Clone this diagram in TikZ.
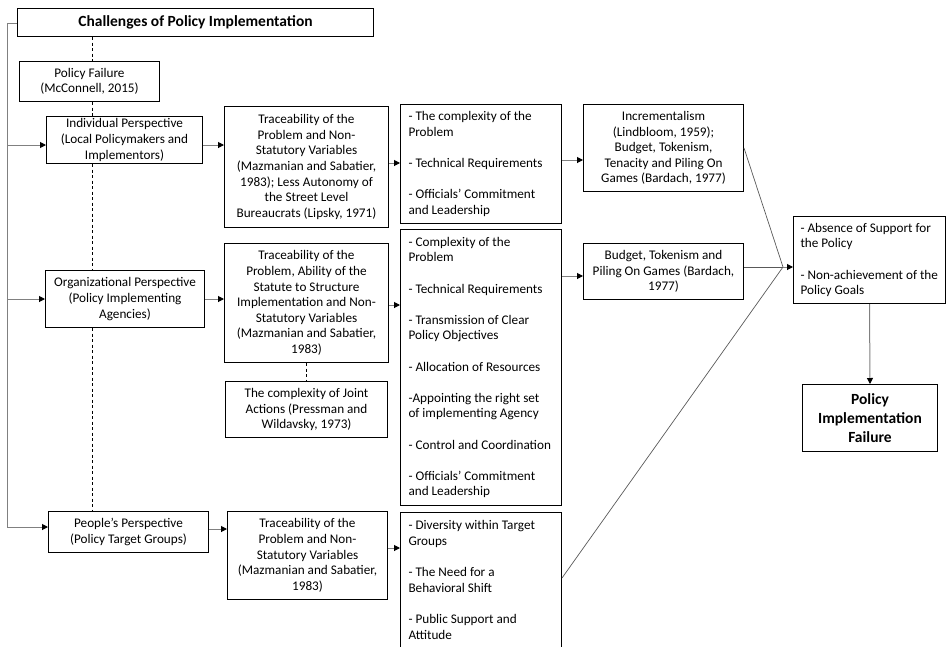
\documentclass[tikz,border=0pt]{standalone}
\usepackage{fontspec}
\setmainfont{Carlito}
\usetikzlibrary{arrows.meta}
\newcommand\dgnfont{\fontsize{13.2}{15.6}\selectfont}
\newcommand\dgbfont{\fontsize{15.5}{19}\selectfont\bfseries}
\begin{document}
\begin{tikzpicture}[x=1pt,y=-1pt,
  box/.style={draw=black,line width=1pt,anchor=north west,align=center,inner sep=2pt,font=\dgnfont},
  lbox/.style={draw=black,line width=1pt,anchor=north west,align=flush left,inner xsep=8pt,inner ysep=4pt,font=\dgnfont},
  conn/.style={draw=black!50,line width=1pt},
  arr/.style={conn,-{Triangle[length=6pt,width=6pt,color=black]}},
  fine/.style={draw=black!65,line width=0.7pt},
  dsh/.style={draw=black,line width=0.9pt,dash pattern=on 3pt off 2.5pt}]
\useasboundingbox (0,0) rectangle (946,646);
\clip (0,0) rectangle (946,646);

\node[box,minimum width=356pt,minimum height=28pt,font=\dgbfont] (title) at (17,8) {Challenges of Policy Implementation};
\node[box,minimum width=140pt,minimum height=40pt] (pf) at (19,61) {Policy Failure\\(McConnell, 2015)};
\node[box,minimum width=156pt,minimum height=47pt] (ind) at (46,116) {Individual Perspective\\(Local Policymakers and\\Implementors)};
\node[box,minimum width=164pt,minimum height=121pt] (t1) at (224,106) {Traceability of the\\Problem and Non-\\Statutory Variables\\(Mazmanian and Sabatier,\\1983); Less Autonomy of\\the Street Level\\Bureaucrats (Lipsky, 1971)};
\node[box,minimum width=159pt,minimum height=57pt] (org) at (45,270) {Organizational Perspective\\(Policy Implementing\\Agencies)};
\node[box,minimum width=164pt,minimum height=119pt] (t2) at (224,243) {Traceability of the\\Problem, Ability of the\\Statute to Structure\\Implementation and Non-\\Statutory Variables\\(Mazmanian and Sabatier,\\1983)};
\node[box,minimum width=162pt,minimum height=56pt] (joint) at (225,381) {The complexity of Joint\\Actions (Pressman and\\Wildavsky, 1973)};
\node[box,minimum width=160pt,minimum height=41pt] (ppl) at (48,511) {People’s Perspective\\(Policy Target Groups)};
\node[box,minimum width=160pt,minimum height=88pt] (t3) at (227,511) {Traceability of the\\Problem and Non-\\Statutory Variables\\(Mazmanian and Sabatier,\\1983)};

\node[lbox,text width=145pt,minimum height=119pt] (A) at (400,104) {- The complexity of the\\Problem\\[15.6pt]- Technical Requirements\\[15.6pt]- Officials’ Commitment\\and Leadership};
\node[box,minimum width=160pt,minimum height=87pt] (B) at (583,104) {Incrementalism\\(Lindbloom, 1959);\\Budget, Tokenism,\\Tenacity and Piling On\\Games (Bardach, 1977)};
\node[lbox,text width=145pt,minimum height=276pt] (C) at (400,229) {- Complexity of the\\Problem\\[15.6pt]- Technical Requirements\\[15.6pt]- Transmission of Clear\\Policy Objectives\\[15.6pt]- Allocation of Resources\\[15.6pt]-Appointing the right set\\of implementing Agency\\[15.6pt]- Control and Coordination\\[15.6pt]- Officials’ Commitment\\and Leadership};
\node[box,minimum width=160pt,minimum height=56pt] (D) at (583,243) {Budget, Tokenism and\\Piling On Games (Bardach,\\1977)};
\node[lbox,text width=145pt,minimum height=135pt] (E) at (400,512) {- Diversity within Target\\Groups\\[15.6pt]- The Need for a\\Behavioral Shift\\[15.6pt]- Public Support and\\Attitude};
\node[lbox,inner xsep=7pt,text width=138pt,minimum height=87pt] (F) at (793,216) {- Absence of Support for\\the Policy\\[15.6pt]- Non-achievement of the\\Policy Goals};
\node[box,minimum width=135pt,minimum height=67pt,font=\dgbfont] (G) at (802,384) {Policy\\Implementation\\Failure};

% left trunk
\coordinate (L0) at (7,23);
\coordinate (L1) at (7,527);
\draw[arr] (title.west |- L0) -- (L0) -- (L1) -- (ppl.west |- L1);
\draw[arr] (L0 |- 0,145) -- (ind.west |- 0,145);
\draw[arr] (L0 |- 0,299) -- (org.west |- 0,299);

% rows
\draw[arr] (ind.east |- 0,145) -- (t1.west |- 0,145);
\draw[arr] (t1.east |- 0,163) -- (A.west |- 0,163);
\draw[arr] (A.east |- 0,160) -- (B.west |- 0,160);
\draw[arr] (org.east |- 0,299) -- (t2.west |- 0,299);
\draw[arr] (t2.east |- 0,305) -- (C.west |- 0,305);
\draw[arr] (C.east |- 0,276) -- (D.west |- 0,276);
\draw[arr] (ppl.east |- 0,529) -- (t3.west |- 0,529);
\draw[arr] (t3.east |- 0,548) -- (E.west |- 0,548);

% convergence
\coordinate (M) at (783,267);
\draw[fine] (B.east |- 0,148) -- (M);
\draw[fine] (D.east |- M) -- (M);
\draw[fine] (E.east |- 0,578) -- (M);
\draw[arr] (M) -- (F.west |- M);
\draw[arr] (F.south) -- (G.north);

% dashed spine
\coordinate (DX) at (92,0);
\draw[dsh] (title.south -| DX) -- (pf.north -| DX);
\draw[dsh] (pf.south -| DX) -- (ind.north -| DX);
\draw[dsh] (ind.south -| DX) -- (org.north -| DX);
\draw[dsh] (org.south -| DX) -- (ppl.north -| DX);
\draw[dsh] (t2.south) -- (joint.north);
\end{tikzpicture}
\end{document}
